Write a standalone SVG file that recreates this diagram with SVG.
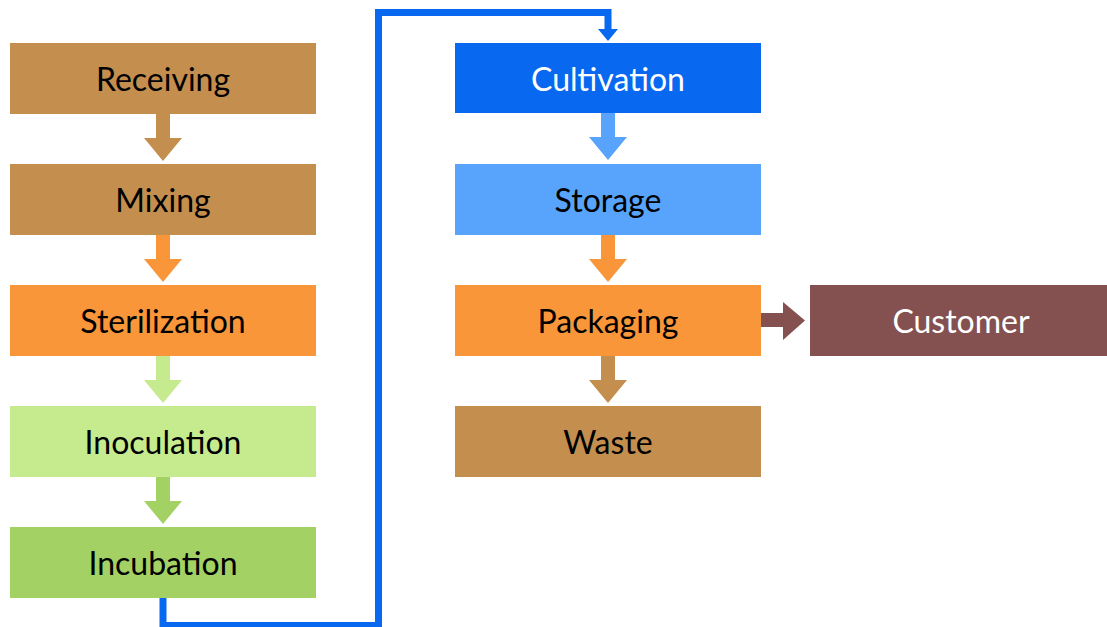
<svg xmlns="http://www.w3.org/2000/svg" width="1107" height="627" viewBox="0 0 1107 627">
<style>
.lbl{font-family:Lato,"Open Sans","Liberation Sans",sans-serif;font-size:32px;text-anchor:middle;fill:#000}
.w{fill:#fff}
.brown{fill:#C38E4E}.orange{fill:#F9963A}.lgreen{fill:#C6EB8E}.green{fill:#A3D164}
.blue{fill:#0868F0}.lblue{fill:#58A4FC}.maroon{fill:#845050}
</style>
<rect width="1107" height="627" fill="#fff"/>
<g id="connectors">
<polygon class="brown" points="156,114 170,114 170,138 182,138 163,161 144,138 156,138"/>
<polygon class="orange" points="156,235 170,235 170,259 182,259 163,282 144,259 156,259"/>
<polygon class="lgreen" points="156,356 170,356 170,380 182,380 163,403 144,380 156,380"/>
<polygon class="green" points="156,477 170,477 170,501 182,501 163,524 144,501 156,501"/>
<polygon class="lblue" points="601,113 615,113 615,137 627,137 608,160 589,137 601,137"/>
<polygon class="orange" points="601,235 615,235 615,259 627,259 608,282 589,259 601,259"/>
<polygon class="brown" points="601,356 615,356 615,380 627,380 608,403 589,380 601,380"/>
<polygon class="maroon" points="761,313 783,313 783,302 805,320.5 783,340 783,327 761,327"/>
<path d="M163,598 V625.5 H378.5 V12.5 H608 V30" fill="none" stroke="#0868F0" stroke-width="7"/>
<polygon class="blue" points="598,29 618,29 608,41"/>
</g>
<g id="receiving"><rect class="brown" x="10" y="43" width="306" height="71"/><text class="lbl" x="163" y="91">Receiving</text></g>
<g id="mixing"><rect class="brown" x="10" y="164" width="306" height="71"/><text class="lbl" x="163" y="212">Mixing</text></g>
<g id="sterilization"><rect class="orange" x="10" y="285" width="306" height="71"/><text class="lbl" x="163" y="333">Sterilization</text></g>
<g id="inoculation"><rect class="lgreen" x="10" y="406" width="306" height="71"/><text class="lbl" x="163" y="454">Inoculation</text></g>
<g id="incubation"><rect class="green" x="10" y="527" width="306" height="71"/><text class="lbl" x="163" y="575">Incubation</text></g>
<g id="cultivation"><rect class="blue" x="455" y="43" width="306" height="70"/><text class="lbl w" x="608" y="91">Cultivation</text></g>
<g id="storage"><rect class="lblue" x="455" y="164" width="306" height="71"/><text class="lbl" x="608" y="212">Storage</text></g>
<g id="packaging"><rect class="orange" x="455" y="285" width="306" height="71"/><text class="lbl" x="608" y="333">Packaging</text></g>
<g id="waste"><rect class="brown" x="455" y="406" width="306" height="71"/><text class="lbl" x="608" y="454">Waste</text></g>
<g id="customer"><rect class="maroon" x="810" y="285" width="297" height="71"/><text class="lbl w" x="961" y="333">Customer</text></g>
</svg>
